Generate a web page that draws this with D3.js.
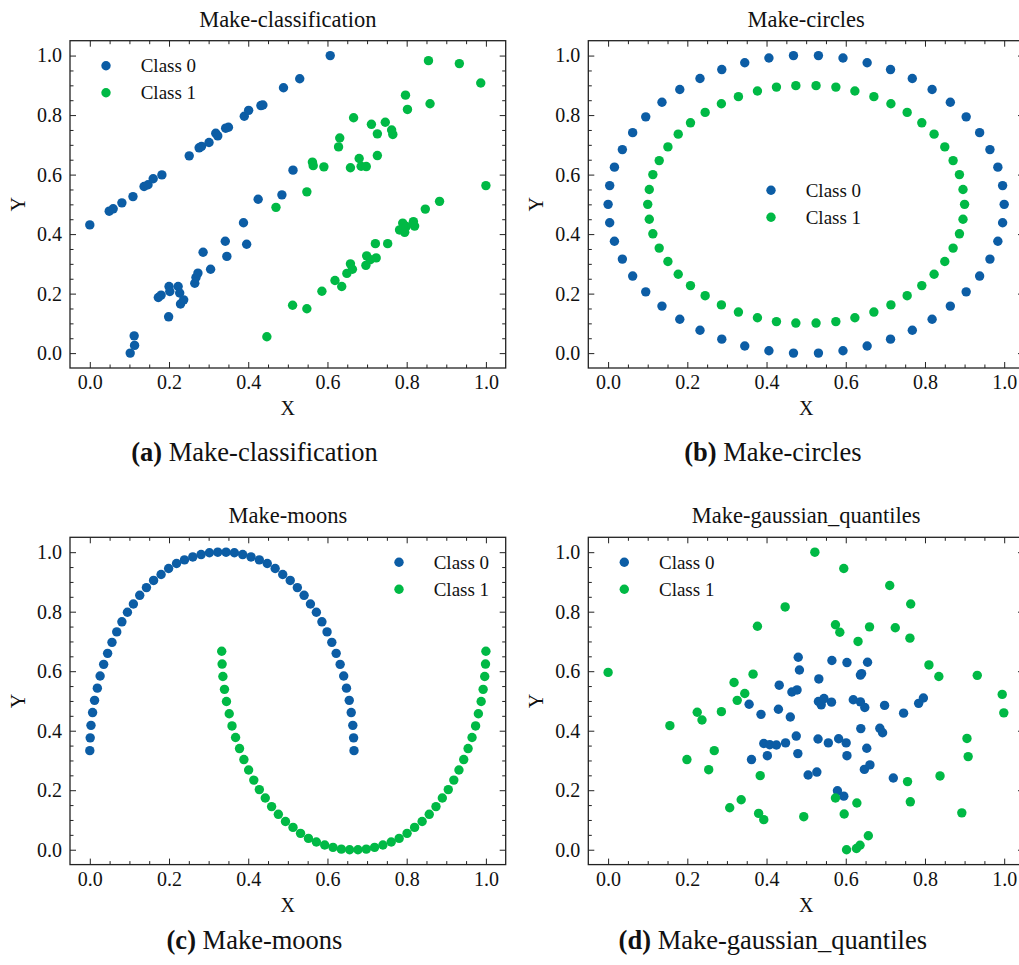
<!DOCTYPE html>
<html>
<head>
<meta charset="utf-8">
<script src="https://cdn.jsdelivr.net/npm/d3@7"></script>
<style>
  body { margin: 0; background: #fff; }
  svg { display: block; }
  text { fill: #111; }
</style>
</head>
<body>
<div id="chart"></div>
<script>
// values, [x, y] pairs per class

const classificationClass0 = [
  [0.000,0.431],[0.049,0.477],[0.059,0.485],[0.081,0.505],[0.109,0.526],[0.137,0.560],[0.147,0.566],[0.160,0.586],
  [0.182,0.599],[0.251,0.663],[0.276,0.690],[0.282,0.695],[0.301,0.708],[0.318,0.739],[0.323,0.730],[0.343,0.756],
  [0.350,0.759],[0.390,0.796],[0.401,0.816],[0.432,0.832],[0.437,0.834],[0.489,0.892],[0.530,0.922],[0.607,1.000],
  [0.102,0.000],[0.113,0.026],[0.112,0.058],[0.199,0.122],[0.173,0.187],[0.180,0.195],[0.200,0.224],[0.202,0.207],
  [0.223,0.224],[0.227,0.202],[0.229,0.165],[0.237,0.179],[0.265,0.235],[0.268,0.254],[0.273,0.269],[0.305,0.282],
  [0.286,0.339],[0.342,0.376],[0.346,0.325],[0.388,0.438],[0.396,0.366],[0.425,0.517],[0.485,0.532],[0.513,0.615]
];
const classificationClass1 = [
  [0.447,0.055],[0.512,0.161],[0.548,0.149],[0.586,0.208],[0.619,0.244],[0.636,0.224],[0.649,0.268],[0.658,0.300],
  [0.663,0.282],[0.697,0.295],[0.699,0.327],[0.708,0.314],[0.723,0.320],[0.721,0.368],[0.752,0.368],[0.782,0.414],
  [0.790,0.437],[0.795,0.406],[0.799,0.426],[0.817,0.442],[0.820,0.427],[0.847,0.484],[0.883,0.510],[1.000,0.563],
  [0.470,0.490],[0.548,0.542],[0.562,0.642],[0.564,0.630],[0.591,0.626],[0.628,0.693],[0.631,0.723],[0.658,0.623],
  [0.666,0.791],[0.680,0.654],[0.685,0.628],[0.698,0.627],[0.711,0.769],[0.726,0.737],[0.726,0.664],[0.746,0.776],
  [0.762,0.750],[0.765,0.735],[0.797,0.867],[0.802,0.819],[0.855,0.983],[0.859,0.838],[0.933,0.973],[0.987,0.908]
];

const circlesClass0 = [
  [0.000,0.500],[0.004,0.563],[0.016,0.625],[0.036,0.684],[0.062,0.741],[0.095,0.794],[0.136,0.843],[0.181,0.886],
  [0.232,0.923],[0.287,0.953],[0.345,0.976],[0.406,0.992],[0.468,1.000],[0.531,1.000],[0.593,0.992],[0.654,0.976],
  [0.713,0.953],[0.768,0.923],[0.818,0.886],[0.864,0.843],[0.904,0.794],[0.938,0.741],[0.964,0.684],[0.984,0.625],
  [0.996,0.563],[1.000,0.500],[0.996,0.438],[0.984,0.376],[0.964,0.316],[0.938,0.259],[0.904,0.206],[0.864,0.158],
  [0.818,0.114],[0.768,0.077],[0.713,0.047],[0.654,0.024],[0.593,0.008],[0.531,0.000],[0.468,0.000],[0.406,0.008],
  [0.345,0.024],[0.287,0.047],[0.232,0.077],[0.181,0.114],[0.136,0.158],[0.095,0.206],[0.062,0.259],[0.036,0.316],
  [0.016,0.376],[0.004,0.438]
];
const circlesClass1 = [
  [0.100,0.500],[0.104,0.550],[0.113,0.600],[0.129,0.647],[0.151,0.693],[0.177,0.736],[0.208,0.774],[0.245,0.809],
  [0.286,0.838],[0.329,0.862],[0.377,0.881],[0.425,0.894],[0.474,0.899],[0.525,0.899],[0.575,0.894],[0.623,0.881],
  [0.671,0.862],[0.714,0.838],[0.755,0.809],[0.792,0.774],[0.823,0.736],[0.850,0.693],[0.871,0.647],[0.887,0.600],
  [0.896,0.550],[0.900,0.500],[0.896,0.450],[0.887,0.401],[0.871,0.353],[0.850,0.308],[0.823,0.265],[0.792,0.227],
  [0.755,0.193],[0.714,0.162],[0.671,0.138],[0.623,0.119],[0.575,0.106],[0.525,0.101],[0.474,0.101],[0.425,0.106],
  [0.377,0.119],[0.329,0.138],[0.286,0.162],[0.245,0.193],[0.208,0.227],[0.177,0.265],[0.151,0.308],[0.129,0.353],
  [0.113,0.401],[0.104,0.450]
];

const moonsClass0 = [
  [0.000,0.333],[0.001,0.376],[0.003,0.418],[0.007,0.461],[0.012,0.502],[0.019,0.543],[0.026,0.584],[0.035,0.623],
  [0.045,0.660],[0.056,0.697],[0.068,0.732],[0.081,0.766],[0.095,0.798],[0.110,0.826],[0.126,0.855],[0.143,0.881],
  [0.161,0.905],[0.180,0.925],[0.199,0.945],[0.219,0.962],[0.239,0.974],[0.260,0.984],[0.281,0.992],[0.302,0.998],
  [0.323,1.000],[0.344,1.000],[0.365,0.998],[0.386,0.992],[0.407,0.984],[0.428,0.974],[0.448,0.962],[0.468,0.945],
  [0.487,0.925],[0.506,0.905],[0.524,0.881],[0.541,0.855],[0.557,0.826],[0.572,0.798],[0.586,0.766],[0.599,0.732],
  [0.611,0.697],[0.622,0.660],[0.632,0.623],[0.641,0.584],[0.648,0.543],[0.655,0.502],[0.660,0.461],[0.664,0.418],
  [0.666,0.376],[0.667,0.333]
];
const moonsClass1 = [
  [0.333,0.667],[0.334,0.624],[0.336,0.582],[0.340,0.539],[0.345,0.498],[0.352,0.457],[0.359,0.416],[0.368,0.377],
  [0.378,0.340],[0.389,0.303],[0.401,0.268],[0.414,0.234],[0.428,0.202],[0.443,0.174],[0.459,0.145],[0.476,0.119],
  [0.494,0.095],[0.513,0.075],[0.532,0.055],[0.552,0.038],[0.572,0.026],[0.593,0.016],[0.614,0.008],[0.635,0.002],
  [0.656,0.000],[0.677,0.000],[0.698,0.002],[0.719,0.008],[0.740,0.016],[0.761,0.026],[0.781,0.038],[0.801,0.055],
  [0.820,0.075],[0.839,0.095],[0.857,0.119],[0.874,0.145],[0.890,0.174],[0.905,0.202],[0.919,0.234],[0.932,0.268],
  [0.944,0.303],[0.955,0.340],[0.965,0.377],[0.974,0.416],[0.981,0.457],[0.988,0.498],[0.993,0.539],[0.997,0.582],
  [0.999,0.624],[1.000,0.667]
];

const quantilesClass0 = [
  [0.480,0.647],[0.483,0.604],[0.432,0.553],[0.464,0.530],[0.477,0.537],[0.532,0.574],[0.565,0.636],[0.603,0.629],
  [0.655,0.630],[0.640,0.592],[0.637,0.587],[0.356,0.489],[0.386,0.455],[0.430,0.472],[0.460,0.446],[0.531,0.498],
  [0.538,0.487],[0.545,0.508],[0.564,0.496],[0.619,0.504],[0.637,0.497],[0.648,0.478],[0.698,0.485],[0.746,0.459],
  [0.784,0.492],[0.796,0.510],[0.638,0.407],[0.686,0.408],[0.693,0.393],[0.475,0.382],[0.530,0.372],[0.556,0.359],
  [0.582,0.373],[0.601,0.359],[0.393,0.357],[0.408,0.353],[0.425,0.352],[0.448,0.359],[0.402,0.316],[0.479,0.323],
  [0.603,0.316],[0.653,0.341],[0.362,0.303],[0.505,0.251],[0.527,0.261],[0.647,0.270],[0.661,0.285],[0.720,0.241],
  [0.579,0.198],[0.595,0.180]
];
const quantilesClass1 = [
  [0.522,1.000],[0.595,0.945],[0.711,0.888],[0.447,0.816],[0.764,0.826],[0.377,0.751],[0.574,0.756],[0.585,0.731],
  [0.660,0.749],[0.725,0.746],[0.631,0.700],[0.762,0.711],[0.000,0.596],[0.366,0.590],[0.318,0.562],[0.345,0.525],
  [0.326,0.502],[0.225,0.462],[0.237,0.436],[0.286,0.464],[0.156,0.417],[0.810,0.621],[0.835,0.582],[0.932,0.586],
  [0.995,0.522],[0.999,0.460],[0.906,0.374],[0.909,0.313],[0.268,0.333],[0.199,0.303],[0.254,0.269],[0.384,0.249],
  [0.838,0.248],[0.756,0.229],[0.336,0.168],[0.307,0.141],[0.574,0.174],[0.628,0.157],[0.763,0.161],[0.380,0.122],
  [0.393,0.101],[0.494,0.111],[0.596,0.120],[0.893,0.124],[0.657,0.047],[0.636,0.015],[0.627,0.004],[0.602,0.000]
];

const classNames = ["Class 0", "Class 1"];
const majorTicks = [0, 0.2, 0.4, 0.6, 0.8, 1.0];
const minorTicks = [0.05, 0.1, 0.15, 0.25, 0.3, 0.35, 0.45, 0.5, 0.55, 0.65, 0.7, 0.75, 0.85, 0.9, 0.95];

const colors = ["#0C5DA5", "#00B945"];
const font = "'Liberation Serif', 'Times New Roman', serif";

const fullWidth = 1019;
const fullHeight = 965;
const width = 435.7;
const height = 327.3;

const panels = [
  { title: "Make-classification", tag: "(a)", left: 70, top: 40.7, data: [classificationClass0, classificationClass1],
    legend: { x: 36, y: 25 }, capX: 254.5, capY: 461 },
  { title: "Make-circles", tag: "(b)", left: 588.3, top: 40.7, data: [circlesClass0, circlesClass1],
    legend: { x: 182.7, y: 149.6 }, capX: 772.8, capY: 461 },
  { title: "Make-moons", tag: "(c)", left: 70, top: 537.3, data: [moonsClass0, moonsClass1],
    legend: { x: 329, y: 25 }, capX: 254.5, capY: 949 },
  { title: "Make-gaussian_quantiles", tag: "(d)", left: 588.3, top: 537.3, data: [quantilesClass0, quantilesClass1],
    legend: { x: 36, y: 25 }, capX: 772.8, capY: 949 }
];

const svg = d3.select("#chart")
  .append("svg")
  .attr("width", fullWidth)
  .attr("height", fullHeight)
  .style("font-family", font);

const x = d3.scaleLinear().domain([-0.05, 1.05]).range([0, width]);
const y = d3.scaleLinear().domain([-0.05, 1.05]).range([height, 0]);

const fmt = d3.format(".1f");

function styleAxis(g, labelled) {
  g.select(".domain").remove();
  g.selectAll(".tick line").attr("stroke", "#222").attr("stroke-width", 1);
  g.attr("font-family", font).attr("font-size", 20);
  if (!labelled) g.selectAll(".tick text").remove();
  g.selectAll(".tick text").attr("fill", "#111");
}

panels.forEach(p => {
  const g = svg.append("g").attr("transform", `translate(${p.left},${p.top})`);

  // ticks on all four sides, pointing in
  const sides = [
    { axis: d3.axisBottom, tr: `translate(0,${height})`, scale: x, lab: true, pad: 7 },
    { axis: d3.axisTop, tr: "translate(0,0)", scale: x, lab: false, pad: 0 },
    { axis: d3.axisLeft, tr: "translate(0,0)", scale: y, lab: true, pad: 8 },
    { axis: d3.axisRight, tr: `translate(${width},0)`, scale: y, lab: false, pad: 0 }
  ];
  sides.forEach(s => {
    g.append("g").attr("transform", s.tr)
      .call(s.axis(s.scale).tickValues(minorTicks).tickSize(-3.5).tickSizeOuter(0).tickFormat(""))
      .call(a => styleAxis(a, false));
    g.append("g").attr("transform", s.tr)
      .call(s.axis(s.scale).tickValues(majorTicks).tickSize(-6).tickSizeOuter(0).tickPadding(s.pad).tickFormat(fmt))
      .call(a => styleAxis(a, s.lab));
  });

  g.append("rect")
    .attr("width", width)
    .attr("height", height)
    .attr("fill", "none")
    .attr("stroke", "#222")
    .attr("stroke-width", 1.3);

  p.data.forEach((pts, i) => {
    g.append("g").selectAll("circle")
      .data(pts)
      .enter()
      .append("circle")
      .attr("cx", d => x(d[0]))
      .attr("cy", d => y(d[1]))
      .attr("r", 4.7)
      .attr("fill", colors[i]);
  });

  // legend
  const lg = g.append("g").attr("transform", `translate(${p.legend.x},${p.legend.y})`);
  classNames.forEach((name, i) => {
    lg.append("circle").attr("cx", 0).attr("cy", i * 27).attr("r", 4.7).attr("fill", colors[i]);
    lg.append("text").attr("x", 34.7).attr("y", i * 27).attr("dy", "0.35em")
      .attr("font-size", 19).text(name);
  });

  g.append("text")
    .attr("x", width / 2).attr("y", -14)
    .attr("text-anchor", "middle")
    .attr("font-size", 22.5)
    .text(p.title);

  g.append("text")
    .attr("x", width / 2).attr("y", height + 47)
    .attr("text-anchor", "middle")
    .attr("font-size", 20)
    .text("X");

  g.append("text")
    .attr("transform", `translate(-52,${height / 2}) rotate(-90)`)
    .attr("text-anchor", "middle")
    .attr("dy", "0.35em")
    .attr("font-size", 20)
    .text("Y");

  const cap = svg.append("text")
    .attr("x", p.capX).attr("y", p.capY)
    .attr("text-anchor", "middle")
    .attr("font-size", 26.5);
  cap.append("tspan").attr("font-weight", "bold").text(p.tag);
  cap.append("tspan").text(" " + p.title);
});
</script>
</body>
</html>
